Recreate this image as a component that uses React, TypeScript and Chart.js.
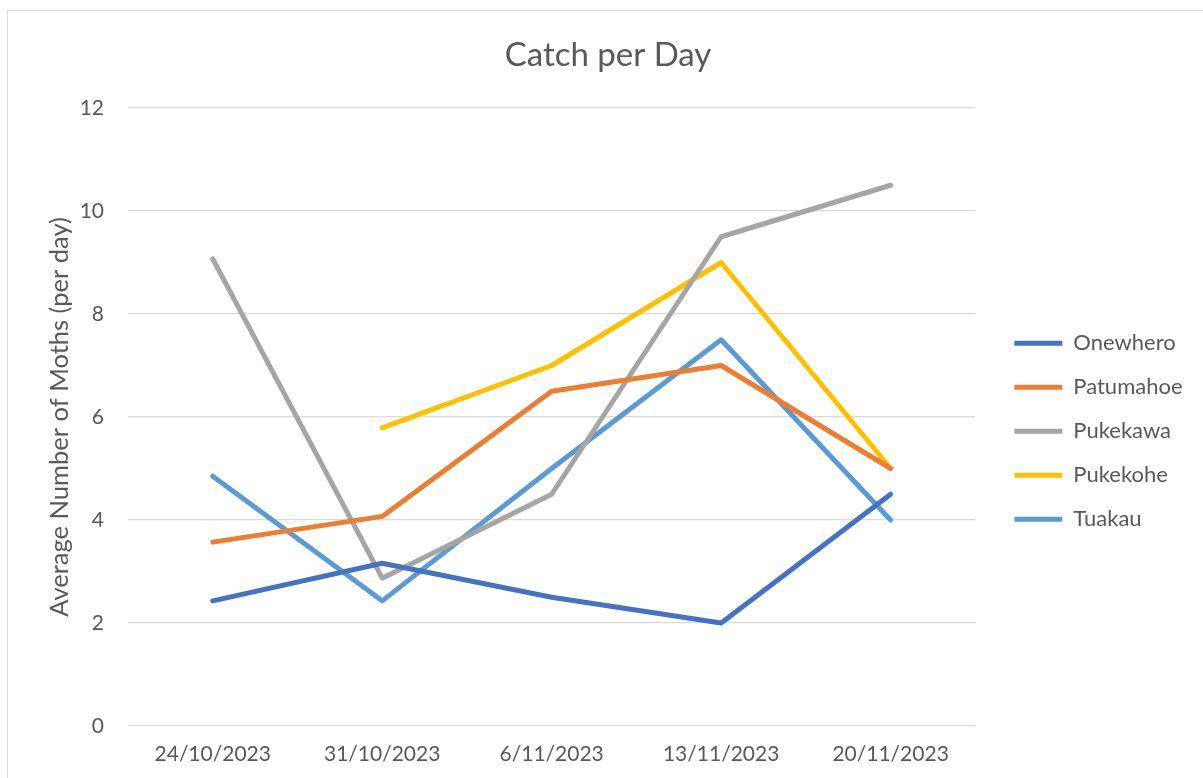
import React, { useEffect, useRef } from "react";
import { Chart, registerables } from "chart.js";

Chart.register(...registerables);

const categories = ["24/10/2023", "31/10/2023", "6/11/2023", "13/11/2023", "20/11/2023"];
const onewhero = [2.43, 3.16, 2.5, 2.0, 4.5];
const patumahoe = [3.57, 4.07, 6.5, 7.0, 5.0];
const pukekawa = [9.07, 2.87, 4.5, 9.5, 10.5];
const pukekohe = [null, 5.79, 7.0, 9.0, 5.0];
const tuakau = [4.85, 2.43, 5.0, 7.5, 4.0];
const seriesNames = ["Onewhero", "Patumahoe", "Pukekawa", "Pukekohe", "Tuakau"];
const seriesColors = ["#4472C4", "#ED7D31", "#A5A5A5", "#FFC000", "#5B9BD5"];
const yTicks = [0, 2, 4, 6, 8, 10, 12];

const FONT = "Lato";
const TEXT = "#595959";
const GRID = "#D9D9D9";

export default function App() {
  const ref = useRef<HTMLCanvasElement | null>(null);

  useEffect(() => {
    document.documentElement.style.overflow = "hidden";
    document.body.style.overflow = "hidden";
    const seriesData = [onewhero, patumahoe, pukekawa, pukekohe, tuakau];
    const chart = new Chart(ref.current as HTMLCanvasElement, {
      type: "line",
      data: {
        labels: categories,
        datasets: seriesNames.map((name, i) => ({
          label: name,
          data: seriesData[i],
          borderColor: seriesColors[i],
          backgroundColor: seriesColors[i],
          borderWidth: 5,
          borderCapStyle: "round" as const,
          borderJoinStyle: "round" as const,
          pointRadius: 0,
          pointHoverRadius: 0,
          tension: 0,
          fill: false,
          spanGaps: false,
        })),
      },
      options: {
        animation: false,
        responsive: false,
        maintainAspectRatio: false,
        layout: { padding: { left: 23.5, right: 18.5, top: 0, bottom: 11 } },
        plugins: {
          title: {
            display: true,
            text: "Catch per Day",
            color: TEXT,
            font: { family: FONT, size: 33, weight: "normal" },
            padding: { top: 25, bottom: 32.4 },
          },
          legend: {
            display: true,
            position: "right",
            fullSize: false,
            align: "center",
            title: { display: true, text: "", padding: 7, font: { size: 12 } },
            labels: {
              usePointStyle: true,
              pointStyle: "line",
              pointStyleWidth: 48,
              boxHeight: 22,
              padding: 22,
              color: TEXT,
              font: { family: FONT, size: 22 },
            },
          },
          tooltip: { enabled: false },
        },
        scales: {
          x: {
            type: "category",
            offset: true,
            grid: { display: false, drawTicks: false },
            border: { display: false },
            ticks: {
              color: TEXT,
              font: { family: FONT, size: 21 },
              padding: 16,
              maxRotation: 0,
              autoSkip: false,
            },
            afterFit: (s: any) => {
              s.height = 41;
            },
          },
          y: {
            type: "linear",
            position: "left",
            min: 0,
            max: 12,
            afterBuildTicks: (s: any) => {
              s.ticks = yTicks.map((v) => ({ value: v }));
            },
            grid: { color: GRID, lineWidth: 1.3, drawTicks: false },
            border: { display: false },
            ticks: {
              color: TEXT,
              font: { family: FONT, size: 21 },
              padding: 24,
            },
            title: {
              display: true,
              text: "Average Number of Moths (per day)",
              color: TEXT,
              font: { family: FONT, size: 25.5 },
              padding: { top: 13.2, bottom: 0 },
            },
            afterFit: (s: any) => {
              s.width = 96.5;
            },
          },
          gap: {
            type: "linear",
            position: "right",
            display: true,
            grid: { display: false, drawTicks: false },
            border: { display: false },
            ticks: { display: false },
            afterFit: (s: any) => {
              s.width = 17;
            },
          },
        },
      },
    });
    return () => chart.destroy();
  }, []);

  return (
    <div
      style={{
        position: "absolute",
        left: 7,
        top: 10,
        width: 1195,
        height: 767,
        border: "1px solid #D9D9D9",
        background: "#fff",
      }}
    >
      <canvas ref={ref} width={1195} height={767} style={{ display: "block", width: 1195, height: 767 }} />
    </div>
  );
}
